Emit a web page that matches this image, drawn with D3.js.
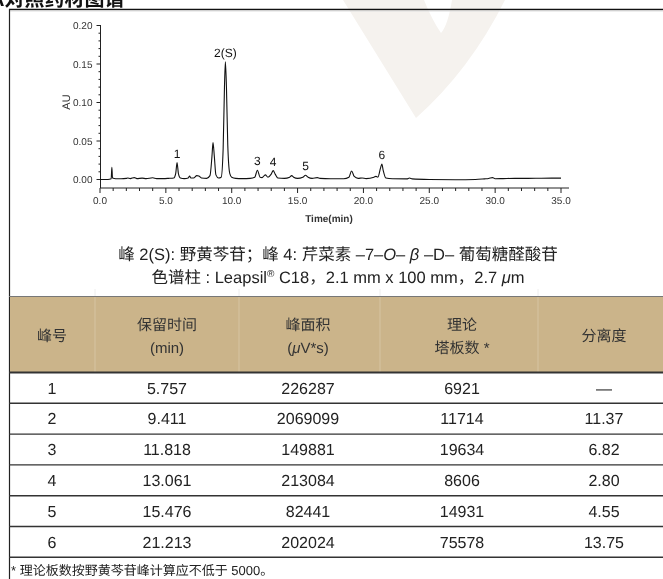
<!DOCTYPE html>
<html><head><meta charset="utf-8">
<script src="https://cdn.jsdelivr.net/npm/d3@7"></script>
<style>
html,body{margin:0;padding:0;background:#fff;}
svg{display:block;will-change:transform;}
svg text{text-rendering:geometricPrecision;}
</style></head>
<body>
<svg id="c" width="663" height="579"></svg>
<script>
// ---- data ----
const timeMin = [0.0,0.6,0.85,0.9,0.95,1.2,1.6,2.0,2.1,2.3,2.6,2.8,3.2,3.5,4.0,4.3,4.8,5.2,5.6,5.75,5.85,5.95,6.1,6.4,6.7,6.8,6.9,7.1,7.35,7.5,7.7,8.1,8.35,8.5,8.58,8.68,8.8,9.0,9.2,9.35,9.45,9.52,9.6,9.7,9.85,10.0,10.3,10.8,11.4,11.75,11.95,12.15,12.3,12.55,12.75,13.0,13.15,13.3,13.5,14.0,14.4,14.55,14.7,15.0,15.4,15.6,15.8,16.1,16.5,16.7,17.5,18.5,18.9,19.1,19.3,19.6,19.9,20.2,20.8,20.95,21.1,21.3,21.4,21.5,21.7,22.2,23.3,23.5,23.7,25.0,27.0,28.5,29.2,29.5,29.8,30.0,30.6,31.5,32.5,33.5,35.0];
const signalAU = [0.0,0.0,0.001,0.016,0.002,0.001,0.001,0.0015,0.002,0.0012,0.0025,0.0012,0.0018,0.0012,0.0022,0.0012,0.0012,0.0015,0.002,0.008,0.022,0.008,0.002,0.0012,0.002,0.0045,0.002,0.002,0.005,0.0045,0.002,0.0015,0.005,0.03,0.048,0.03,0.006,0.002,0.003,0.04,0.12,0.153,0.12,0.045,0.008,0.003,0.0015,0.0012,0.0015,0.003,0.012,0.003,0.0025,0.006,0.003,0.007,0.0115,0.007,0.002,0.0015,0.003,0.005,0.003,0.0015,0.003,0.0055,0.003,0.0015,0.0025,0.0015,0.001,0.001,0.003,0.011,0.004,0.0015,0.002,0.0012,0.003,0.004,0.003,0.015,0.02,0.012,0.002,0.001,0.0008,0.002,0.0008,0.0,-0.0003,0.0,0.0008,0.0012,0.0025,0.001,0.0012,0.0015,0.0015,0.0017,0.0018];
const peakLabels = ["1","2(S)","3","4","5","6"];
const peakLabelTime = [5.85,9.52,11.95,13.15,15.6,21.4];
const peakLabelAU = [0.022,0.153,0.012,0.0115,0.0055,0.02];
const xTicks = [0,5,10,15,20,25,30,35];
const yTicks = [0,0.05,0.10,0.15,0.20];

const headerTop = ["峰号","保留时间","峰面积","理论","分离度"];
const headerBottom = ["","(min)","(μV*s)","塔板数 *",""];
const peakNo = ["1","2","3","4","5","6"];
const retentionTime = ["5.757","9.411","11.818","13.061","15.476","21.213"];
const peakArea = ["226287","2069099","149881","213084","82441","202024"];
const plates = ["6921","11714","19634","8606","14931","75578"];
const resolution = ["—","11.37","6.82","2.80","4.55","13.75"];

// ---- drawing ----
const svg = d3.select("#c");
const LAT = "'Liberation Sans',Arial,sans-serif";
const HAN = "'Noto Sans CJK SC','Noto Sans CJK JP',sans-serif";
const isHan = ch => /[\u3000-\u303f\u4e00-\u9fff\uff00-\uffef]/.test(ch);

function mixed(sel, str, opts={}){
  const runs = [];
  for(const ch of str){
    const h = isHan(ch);
    if(runs.length && runs[runs.length-1].h===h) runs[runs.length-1].s += ch;
    else runs.push({h, s:ch});
  }
  runs.forEach(r=>{
    const t = sel.append("tspan").attr("font-family", r.h?HAN:LAT).text(r.s);
    if(opts.italic && !r.h) t.attr("font-style","italic");
  });
  return sel;
}

// watermark
svg.append("path")
  .attr("d","M343,0 L416,118 Q470,70 505,0 L452,0 Q448,25 441,33 Q432,20 424,0 Z")
  .attr("fill","#f5f2ee");

// title (cut off at top, as in the source)
mixed(svg.append("text").attr("x",-10).attr("y",6)
  .attr("font-weight","bold").attr("font-size",20).attr("fill","#111"), "A对照药材图谱");

// frame
svg.append("line").attr("x1",9).attr("x2",663).attr("y1",9.5).attr("y2",9.5).attr("stroke","#111").attr("stroke-width",1.6);
svg.append("line").attr("x1",9).attr("x2",663).attr("y1",11).attr("y2",11).attr("stroke","#ddd").attr("stroke-width",1);
svg.append("line").attr("x1",9.5).attr("x2",9.5).attr("y1",9).attr("y2",579).attr("stroke","#222").attr("stroke-width",1.2);

// chart
const x = d3.scaleLinear().domain([0,35]).range([100,561]);
const y = d3.scaleLinear().domain([0,0.2]).range([179.5,25.5]);

const gx = svg.append("g").attr("transform","translate(0,188)");
gx.append("line").attr("x1",100).attr("x2",569).attr("stroke","#222");
gx.selectAll(".mn").data(d3.range(0,36,1)).join("line")
  .attr("x1",d=>x(d)).attr("x2",d=>x(d)).attr("y1",0).attr("y2",d=>d%5===0?5:3).attr("stroke","#222");
gx.selectAll("text").data(xTicks).join("text")
  .attr("x",d=>x(d)).attr("y",16).attr("text-anchor","middle")
  .attr("font-family",LAT).attr("font-size",10).attr("fill","#333")
  .text(d=>d3.format(".1f")(d));
svg.append("text").attr("x",329).attr("y",222).attr("text-anchor","middle")
  .attr("font-family",LAT).attr("font-size",10).attr("font-weight","bold").attr("fill","#333").text("Time(min)");

const gy = svg.append("g").attr("transform","translate(100.5,0)");
gy.append("line").attr("y1",25).attr("y2",188).attr("stroke","#222");
gy.selectAll(".mn").data(d3.range(0,21,1)).join("line")
  .attr("x1",d=>d%5===0?-4:-2).attr("x2",0).attr("y1",d=>y(d/100)).attr("y2",d=>y(d/100)).attr("stroke","#222");
gy.selectAll("text").data(yTicks).join("text")
  .attr("x",-8).attr("y",d=>y(d)+3.5).attr("text-anchor","end")
  .attr("font-family",LAT).attr("font-size",10).attr("fill","#333")
  .text(d=>d3.format(".2f")(d));
svg.append("text").attr("transform","translate(70,102) rotate(-90)").attr("text-anchor","middle")
  .attr("font-family",LAT).attr("font-size",11).attr("fill","#333").text("AU");

const line = d3.line().x((d,i)=>x(timeMin[i])).y((d,i)=>y(signalAU[i])).curve(d3.curveMonotoneX);
svg.append("path").datum(signalAU).attr("d",line).attr("fill","none").attr("stroke","#111").attr("stroke-width",1.1);

svg.selectAll(".pl").data(peakLabels).join("text")
  .attr("x",(d,i)=>x(peakLabelTime[i])).attr("y",(d,i)=>y(peakLabelAU[i])-5)
  .attr("text-anchor","middle").attr("font-family",LAT).attr("font-size",12).attr("fill","#111")
  .text(d=>d);

// captions
const cap1 = svg.append("text").attr("x",338).attr("y",260).attr("text-anchor","middle")
  .attr("font-size",16.5).attr("fill","#222");
mixed(cap1, "峰 2(S): 野黄芩苷；峰 4: 芹菜素 –7–");
mixed(cap1, "O", {italic:true});
mixed(cap1, "– ");
mixed(cap1, "β", {italic:true});
mixed(cap1, " –D– 葡萄糖醛酸苷");
const cap2 = svg.append("text").attr("x",338).attr("y",283).attr("text-anchor","middle")
  .attr("font-size",16.5).attr("fill","#222");
mixed(cap2, "色谱柱 : Leapsil");
cap2.append("tspan").attr("font-family",LAT).attr("font-size",10).attr("dy",-6).text("®");
cap2.append("tspan").attr("font-family",LAT).attr("dy",6).text(" C18");
mixed(cap2, "，2.1 mm x 100 mm，2.7 ");
mixed(cap2, "μ", {italic:true});
mixed(cap2, "m");

// table
const colEdges = [9,95,239,380,538,663];
const colCenters = [52,167,308,462,604];
svg.append("rect").attr("x",10).attr("y",297).attr("width",653).attr("height",75).attr("fill","#cbb48a");
svg.append("line").attr("x1",9).attr("x2",663).attr("y1",296.5).attr("y2",296.5).attr("stroke","#777").attr("stroke-width",1);
svg.selectAll(".vd").data(colEdges.slice(1,5)).join("line")
  .attr("x1",d=>d).attr("x2",d=>d).attr("y1",297).attr("y2",372).attr("stroke","#d6c4a2").attr("stroke-width",1);
svg.selectAll(".vd2").data(colEdges.slice(1,5)).join("line")
  .attr("x1",d=>d).attr("x2",d=>d).attr("y1",289).attr("y2",296).attr("stroke","#eeeeee").attr("stroke-width",1);

headerTop.forEach((t,i)=>{
  const two = headerBottom[i] !== "";
  mixed(svg.append("text").attr("x",colCenters[i]).attr("y",two?330:341).attr("text-anchor","middle")
    .attr("font-size",15).attr("fill","#333"), t);
  if(two){
    const tb = svg.append("text").attr("x",colCenters[i]).attr("y",353).attr("text-anchor","middle")
      .attr("font-size",15).attr("fill","#333");
    if(headerBottom[i].startsWith("(μ")){
      mixed(tb,"(");
      mixed(tb,"μ",{italic:true});
      mixed(tb,"V*s)");
    } else mixed(tb, headerBottom[i]);
  }
});

const rowTop = 372.5, rowH = 30.8;
const cols = [peakNo,retentionTime,peakArea,plates,resolution];
d3.range(0,7).forEach(r=>{
  svg.append("line").attr("x1",9).attr("x2",663).attr("y1",rowTop+r*rowH).attr("y2",rowTop+r*rowH)
    .attr("stroke","#333").attr("stroke-width",r===0?1.8:1.4);
});
peakNo.forEach((p,r)=>{
  cols.forEach((c,ci)=>{
    svg.append("text").attr("x",colCenters[ci]).attr("y",rowTop+r*rowH+21)
      .attr("text-anchor","middle").attr("font-family",LAT).attr("font-size",16).attr("fill","#222")
      .text(c[r]);
  });
});

mixed(svg.append("text").attr("x",11).attr("y",575).attr("font-size",13).attr("fill","#222"),
  "* 理论板数按野黄芩苷峰计算应不低于 5000。");
</script>
</body></html>
